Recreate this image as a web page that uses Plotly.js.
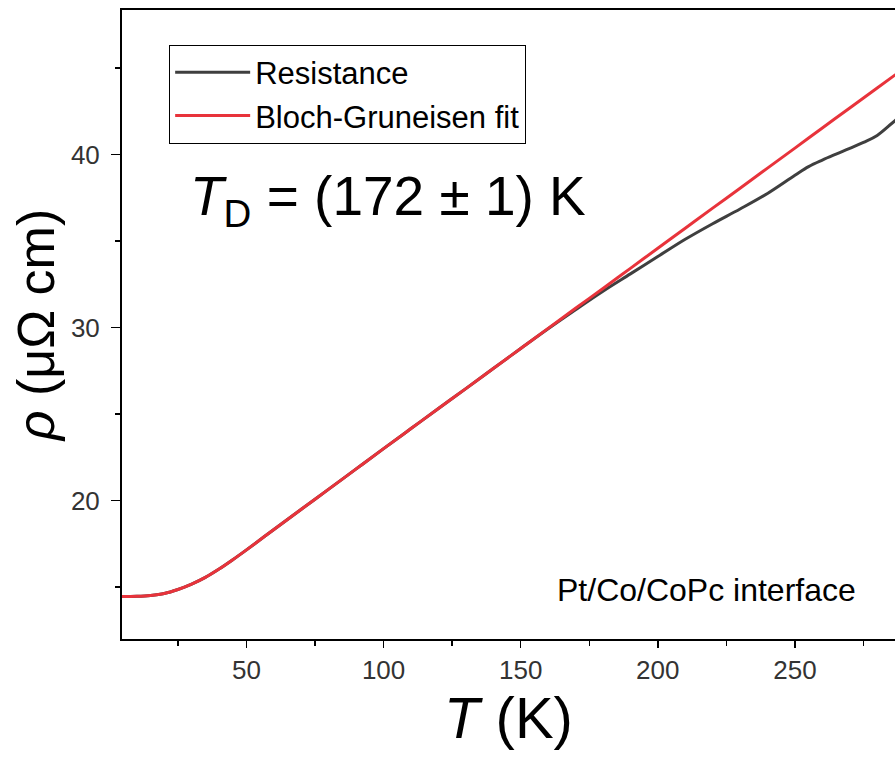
<!DOCTYPE html>
<html>
<head>
<meta charset="utf-8">
<script src="https://cdn.plot.ly/plotly-3.0.1.min.js"></script>
<style>html,body{margin:0;padding:0;background:#fff;overflow:hidden}#chart{width:895px;height:758px}</style>
</head>
<body>
<div id="chart"></div>
<script>
// Resistance data (T in K, rho in µΩ cm)
const tempResistance = [4.6,10,15,20,25,30,35,40,45,50,60,70,80,90,100,110,120,130,140,150,160,170,180,190,200,210,220,230,240,250,255,260,265,270,275,280,286.5,290];
const rhoResistance  = [14.45,14.47,14.52,14.63,14.86,15.17,15.56,16.04,16.58,17.15,18.33,19.5,20.66,21.83,23.0,24.16,25.32,26.47,27.63,28.79,29.93,31.03,32.1,33.1,34.1,35.1,36.0,36.85,37.75,38.8,39.3,39.68,40.02,40.35,40.7,41.1,41.95,42.35];
// Bloch-Gruneisen fit
const tempFit = [4.6,10,15,20,25,30,35,40,45,50,60,70,80,90,100,110,120,130,140,150,160,170,180,190,200,210,220,230,240,250,260,270,280,290];
const rhoFit  = [14.45,14.47,14.52,14.63,14.86,15.17,15.56,16.04,16.58,17.15,18.33,19.5,20.66,21.83,23.0,24.16,25.32,26.47,27.63,28.79,29.95,31.11,32.26,33.42,34.58,35.74,36.9,38.05,39.21,40.37,41.53,42.69,43.84,45.0];
const xTickVals = [50,100,150,200,250];
const yTickVals = [20,30,40];
const seriesNames = ['Resistance','Bloch-Gruneisen fit'];

const font = 'Liberation Sans, Arial, sans-serif';
const traces = [
  {x: tempResistance, y: rhoResistance, name: seriesNames[0], type: 'scatter', mode: 'lines',
   line: {color: '#3f3f3f', width: 3, shape: 'spline', smoothing: 1}},
  {x: tempFit, y: rhoFit, name: seriesNames[1], type: 'scatter', mode: 'lines',
   line: {color: '#e8333b', width: 3, shape: 'spline', smoothing: 1}}
];
const layout = {
  width: 895, height: 758, autosize: false,
  margin: {l: 122, r: 0, t: 10, b: 119, pad: 0},
  paper_bgcolor: '#fff', plot_bgcolor: '#fff',
  font: {family: font, color: '#000'},
  showlegend: true,
  legend: {x: 0.061, y: 0.945, xanchor: 'left', yanchor: 'top',
    bordercolor: '#000', borderwidth: 1, bgcolor: 'rgba(255,255,255,0)',
    font: {family: font, size: 31, color: '#000'}, itemwidth: 75, tracegroupgap: 0},
  xaxis: {range: [4.6, 286.5], showgrid: false, zeroline: false,
    showline: true, linecolor: '#000', linewidth: 2, mirror: true,
    ticks: 'outside', ticklen: 7, tickwidth: 1.5, tickcolor: '#000',
    tickmode: 'array', tickvals: xTickVals, ticktext: xTickVals.map(String),
    tickfont: {family: font, size: 26, color: '#333'}, ticklabelstandoff: 0,
    minor: {dtick: 25, tick0: 0, ticks: 'outside', ticklen: 5, tickwidth: 1.5, tickcolor: '#000', showgrid: false},
    title: {text: '<i>T</i> (K)', font: {family: font, size: 58, color: '#000'}, standoff: 12}},
  yaxis: {range: [12, 48.35], showgrid: false, zeroline: false,
    showline: true, linecolor: '#000', linewidth: 2, mirror: false,
    ticks: 'outside', ticklen: 9, tickwidth: 1.5, tickcolor: '#000',
    tickmode: 'array', tickvals: yTickVals, ticktext: yTickVals.map(String),
    tickfont: {family: font, size: 26, color: '#333'}, ticklabelstandoff: 6,
    minor: {dtick: 5, tick0: 0, ticks: 'outside', ticklen: 5, tickwidth: 1.5, tickcolor: '#000', showgrid: false},
    title: {text: '<i>ρ</i> (μΩ cm)', font: {family: font, size: 52, color: '#000'}, standoff: 0}},
  annotations: [
    {xref: 'paper', yref: 'paper', x: 0.086, y: 0.698, xanchor: 'left', yanchor: 'middle',
     text: '<i>T</i><sub>D</sub> = (172 ± 1) K', showarrow: false,
     font: {family: font, size: 55, color: '#000'}},
    {xref: 'paper', yref: 'paper', x: 0.56, y: 0.078, xanchor: 'left', yanchor: 'middle',
     text: 'Pt/Co/CoPc interface', showarrow: false,
     font: {family: font, size: 32, color: '#000'}}
  ]
};
Plotly.newPlot('chart', traces, layout, {displayModeBar: false, staticPlot: true});
</script>
</body>
</html>
